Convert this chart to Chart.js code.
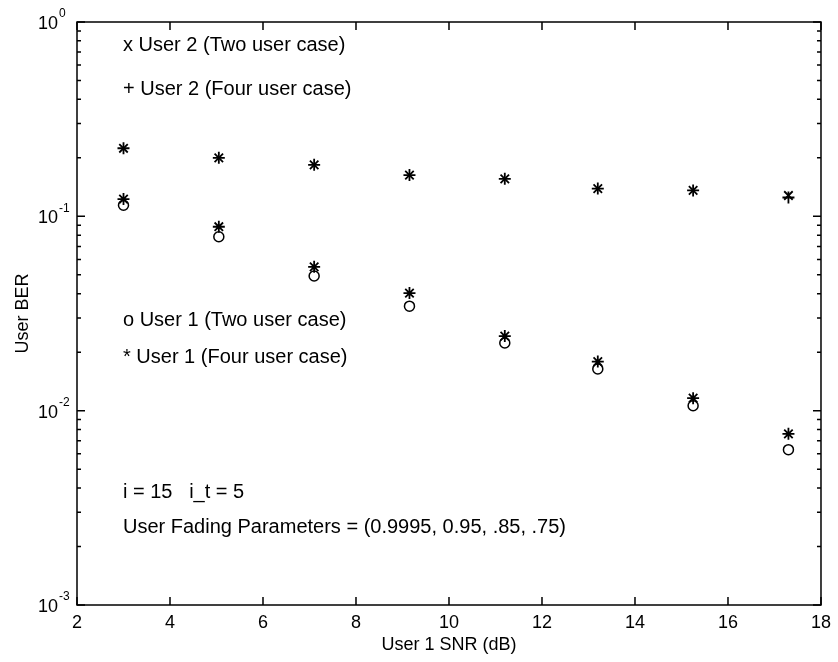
<!DOCTYPE html>
<html>
<head>
<meta charset="utf-8">
<script src="https://cdn.jsdelivr.net/npm/chart.js@4/dist/chart.umd.min.js"></script>
<style>
  html, body { margin: 0; padding: 0; background: #fff; }
  #wrap { width: 838px; height: 662px; }
</style>
</head>
<body>
<div id="wrap"><canvas id="berChart" width="838" height="662"></canvas></div>
<script>
// values
const snrDb = [3.0, 5.05, 7.1, 9.15, 11.2, 13.2, 15.25, 17.3];
const user2TwoCase = [0.224, 0.200, 0.184, 0.163, 0.156, 0.139, 0.136, 0.128];
const user2FourCase = [0.224, 0.200, 0.184, 0.163, 0.156, 0.139, 0.136, 0.125];
const user1TwoCase = [0.114, 0.0785, 0.0493, 0.0345, 0.0223, 0.0164, 0.0106, 0.0063];
const user1FourCase = [0.1227, 0.0884, 0.0550, 0.0403, 0.0242, 0.0179, 0.0116, 0.0076];

const xTicks = [2, 4, 6, 8, 10, 12, 14, 16, 18];
const yDecades = [0, -1, -2, -3];

const notes = [
    "x User 2 (Two user case)",
    "+ User 2 (Four user case)",
    "o User 1 (Two user case)",
    "* User 1 (Four user case)",
    "i = 15   i_t = 5",
    "User Fading Parameters = (0.9995, 0.95, .85, .75)"
];
const noteY = [45, 89, 320, 357, 492, 527];

const FONT = "'Liberation Sans', Arial, Helvetica, sans-serif";

const toPoints = ys => snrDb.map((x, i) => ({ x: x, y: ys[i] }));

// matlab style box, inward ticks, 10^n labels and the text notes
const framePlugin = {
    id: "frame",
    afterDraw(chart) {
        const { ctx, chartArea: a, scales } = chart;
        const xs = scales.x, ys = scales.y;
        ctx.save();
        ctx.strokeStyle = "#000";
        ctx.fillStyle = "#000";
        ctx.lineWidth = 1.5;
        ctx.strokeRect(a.left, a.top, a.right - a.left, a.bottom - a.top);

        ctx.beginPath();
        xTicks.forEach(v => {
            const px = xs.getPixelForValue(v);
            ctx.moveTo(px, a.bottom); ctx.lineTo(px, a.bottom - 8);
            ctx.moveTo(px, a.top); ctx.lineTo(px, a.top + 8);
        });
        yDecades.forEach(d => {
            const py = ys.getPixelForValue(Math.pow(10, d));
            ctx.moveTo(a.left, py); ctx.lineTo(a.left + 8, py);
            ctx.moveTo(a.right, py); ctx.lineTo(a.right - 8, py);
            if (d > -3) {
                for (let m = 2; m <= 9; m++) {
                    const pm = ys.getPixelForValue(m * Math.pow(10, d - 1));
                    ctx.moveTo(a.left, pm); ctx.lineTo(a.left + 4, pm);
                    ctx.moveTo(a.right, pm); ctx.lineTo(a.right - 4, pm);
                }
            }
        });
        ctx.stroke();

        // y tick labels with superscript exponent
        yDecades.forEach(d => {
            const py = ys.getPixelForValue(Math.pow(10, d));
            ctx.textBaseline = "middle";
            ctx.textAlign = "right";
            ctx.font = "18px " + FONT;
            ctx.fillText("10", 58, py + 2);
            ctx.textAlign = "left";
            ctx.font = "12px " + FONT;
            ctx.fillText(String(d), 59, py - 8);
        });

        ctx.textAlign = "left";
        ctx.textBaseline = "middle";
        ctx.font = "20px " + FONT;
        notes.forEach((t, i) => ctx.fillText(t, 123, noteY[i]));
        ctx.restore();
    }
};

const ctx = document.getElementById("berChart").getContext("2d");
new Chart(ctx, {
    type: "scatter",
    data: {
        datasets: [
            { label: "User 2 (Two user case)", data: toPoints(user2TwoCase), pointStyle: "crossRot", pointRadius: 6, borderColor: "#000", borderWidth: 1.8 },
            { label: "User 2 (Four user case)", data: toPoints(user2FourCase), pointStyle: "cross", pointRadius: 6, borderColor: "#000", borderWidth: 1.8 },
            { label: "User 1 (Two user case)", data: toPoints(user1TwoCase), pointStyle: "circle", pointRadius: 5, borderColor: "#000", backgroundColor: "rgba(0,0,0,0)", borderWidth: 1.5 },
            { label: "User 1 (Four user case)", data: toPoints(user1FourCase), pointStyle: "star", pointRadius: 6, borderColor: "#000", borderWidth: 1.8 }
        ]
    },
    options: {
        responsive: false,
        animation: false,
        layout: { padding: { top: 22, right: 13, left: 0, bottom: 0 } },
        plugins: { legend: { display: false }, tooltip: { enabled: false } },
        scales: {
            x: {
                type: "linear", min: 2, max: 18,
                afterBuildTicks: s => { s.ticks = xTicks.map(v => ({ value: v })); },
                ticks: { color: "#000", font: { family: FONT, size: 18 }, padding: 7, maxRotation: 0 },
                grid: { display: false, drawTicks: false },
                border: { display: false },
                title: { display: true, text: "User 1 SNR (dB)", color: "#000", font: { family: FONT, size: 18 }, padding: { top: 0, bottom: 6 } },
                afterFit: s => { s.height = 57; }
            },
            y: {
                type: "logarithmic", min: 0.001, max: 1,
                ticks: { display: false },
                grid: { display: false, drawTicks: false },
                border: { display: false },
                title: { display: true, text: "User BER", color: "#000", font: { family: FONT, size: 18 }, padding: { top: 12, bottom: 0 } },
                afterFit: s => { s.width = 77; }
            }
        }
    },
    plugins: [framePlugin]
});
</script>
</body>
</html>
